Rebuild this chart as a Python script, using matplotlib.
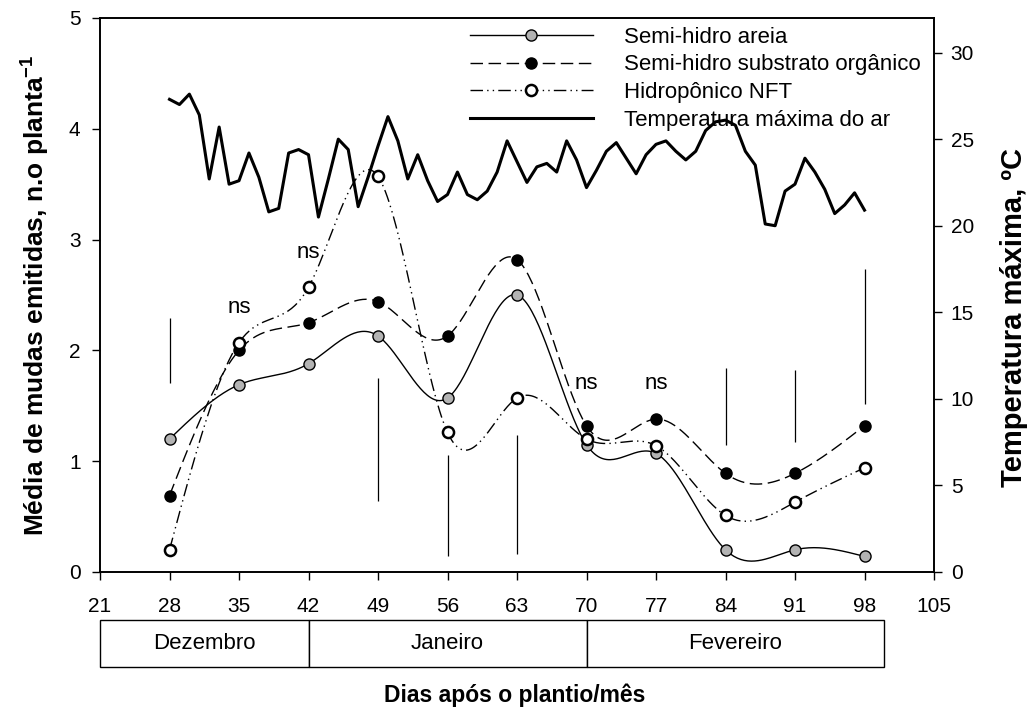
import numpy as np
import matplotlib
matplotlib.use("Agg")
import matplotlib.pyplot as plt
from matplotlib.lines import Line2D
from matplotlib.patches import Rectangle
import matplotlib.transforms as mtransforms

plt.rcParams["font.family"] = ["Liberation Sans", "DejaVu Sans"]
plt.rcParams["mathtext.default"] = "regular"

# sampling days (days after planting)
days = [28, 35, 42, 49, 56, 63, 70, 77, 84, 91, 98]

areia = [1.20, 1.69, 1.88, 2.13, 1.57, 2.50, 1.15, 1.07, 0.20, 0.20, 0.14]
substrato = [0.69, 2.00, 2.25, 2.44, 2.13, 2.82, 1.32, 1.38, 0.89, 0.89, 1.32]
nft = [0.20, 2.07, 2.57, 3.57, 1.26, 1.57, 1.20, 1.14, 0.51, 0.63, 0.94]

# daily maximum air temperature, day 28 .. 98
temp_days = list(range(28, 99))
temp_max = [
    27.3, 27.0, 27.6, 26.4, 22.7, 25.7, 22.4, 22.6, 24.2, 22.8,
    20.8, 21.0, 24.2, 24.4, 24.1, 20.5, 22.7, 25.0, 24.4, 21.1,
    22.8, 24.6, 26.3, 24.9, 22.7, 24.1, 22.6, 21.4, 21.8, 23.1,
    21.8, 21.5, 22.0, 23.1, 24.9, 23.7, 22.5, 23.4, 23.6, 23.1,
    24.9, 23.8, 22.2, 23.2, 24.3, 24.8, 23.9, 23.0, 24.1, 24.7,
    24.9, 24.3, 23.8, 24.3, 25.5, 26.0, 26.1, 25.8, 24.3, 23.5,
    20.1, 20.0, 22.0, 22.4, 23.9, 23.1, 22.1, 20.7, 21.2, 21.9,
    20.9,
]

# least significant difference bars
lsd_days = [28, 49, 56, 63, 84, 91, 98]
lsd_low = [1.71, 0.64, 0.14, 0.16, 1.15, 1.17, 1.52]
lsd_high = [2.29, 1.75, 1.06, 1.24, 1.84, 1.82, 2.73]

# non significant labels
ns_days = [35, 42, 70, 77]
ns_y = [2.39, 2.88, 1.70, 1.70]

months = ["Dezembro", "Janeiro", "Fevereiro"]
month_edges = [21, 42, 70, 100]

xticks = [21, 28, 35, 42, 49, 56, 63, 70, 77, 84, 91, 98, 105]


def natural_spline(x, y, n=400):
    x = np.asarray(x, float)
    y = np.asarray(y, float)
    k = len(x)
    h = np.diff(x)
    A = np.zeros((k, k))
    b = np.zeros(k)
    A[0, 0] = 1
    A[-1, -1] = 1
    for i in range(1, k - 1):
        A[i, i - 1] = h[i - 1]
        A[i, i] = 2 * (h[i - 1] + h[i])
        A[i, i + 1] = h[i]
        b[i] = 6 * ((y[i + 1] - y[i]) / h[i] - (y[i] - y[i - 1]) / h[i - 1])
    m = np.linalg.solve(A, b)
    xs = np.linspace(x[0], x[-1], n)
    idx = np.clip(np.searchsorted(x, xs) - 1, 0, k - 2)
    x0, x1 = x[idx], x[idx + 1]
    hh = x1 - x0
    t0 = x1 - xs
    t1 = xs - x0
    ys = (m[idx] * t0 ** 3 / (6 * hh) + m[idx + 1] * t1 ** 3 / (6 * hh)
          + (y[idx] / hh - m[idx] * hh / 6) * t0
          + (y[idx + 1] / hh - m[idx + 1] * hh / 6) * t1)
    return xs, ys


fig = plt.figure(figsize=(10.3, 7.13), dpi=100)
ax = fig.add_axes([0.0971, 0.1978, 0.8097, 0.7770])
ax2 = ax.twinx()

series = [
    (areia, "-", "#b3b3b3", 1.0, "Semi-hidro areia"),
    (substrato, (0, (9, 4)), "black", 1.0, "Semi-hidro substrato orgânico"),
    (nft, (0, (9, 3, 1, 3, 1, 3)), "white", 1.8, "Hidropônico NFT"),
]

handles = []
for vals, ls, face, mew, lab in series:
    xs, ys = natural_spline(days, vals)
    ax.plot(xs, ys, color="black", linestyle=ls, linewidth=1.0, zorder=2)
    ax.plot(days, vals, linestyle="none", marker="o", markersize=8,
            markerfacecolor=face, markeredgecolor="black",
            markeredgewidth=mew, zorder=3)
    handles.append(Line2D([], [], color="black", linestyle=ls, linewidth=1.0,
                          marker="o", markersize=8, markerfacecolor=face,
                          markeredgecolor="black", markeredgewidth=mew,
                          label=lab))

ax.vlines(lsd_days, lsd_low, lsd_high, color="black", linewidth=0.9, zorder=1)

for d, yv in zip(ns_days, ns_y):
    ax.text(d, yv, "ns", ha="center", va="center", fontsize=16)

ax2.plot(temp_days, temp_max, color="black", linewidth=2.2)
handles.append(Line2D([], [], color="black", linewidth=2.2,
                      label="Temperatura máxima do ar"))

ax.set_xlim(21, 105)
ax.set_ylim(0, 5)
ax2.set_ylim(0, 32)
ax.set_xticks(xticks)
ax.set_yticks([0, 1, 2, 3, 4, 5])
ax2.set_yticks([0, 5, 10, 15, 20, 25, 30])

ax.tick_params(axis="x", direction="out", length=6, width=1, labelsize=15,
               pad=12)
ax.tick_params(axis="y", direction="out", length=6, width=1, labelsize=15,
               pad=8)
ax2.tick_params(axis="y", direction="out", length=6, width=1, labelsize=15,
                pad=6)
for sp in list(ax.spines.values()) + list(ax2.spines.values()):
    sp.set_linewidth(1.2)

ax.set_ylabel("Média de mudas emitidas, n.o planta$^{-1}$", fontsize=19,
              fontweight="bold", labelpad=12)
ax2.set_ylabel("Temperatura máxima, ºC", fontsize=21, fontweight="bold")
ax2.yaxis.set_label_coords(1.079, 0.46)

# month boxes under the x axis
trans = mtransforms.blended_transform_factory(ax.transData, ax.transAxes)
box_bottom = -0.1715
box_h = 0.085
for i, name in enumerate(months):
    x0 = month_edges[i]
    x1 = month_edges[i + 1]
    ax.add_patch(Rectangle((x0, box_bottom), x1 - x0, box_h, transform=trans,
                           facecolor="white", edgecolor="black",
                           linewidth=1.0, clip_on=False))
    ax.text((x0 + x1) / 2, box_bottom + box_h / 2, name, transform=trans,
            ha="center", va="center", fontsize=16)

fig.text(0.5, 0.025, "Dias após o plantio/mês", ha="center", va="center",
         fontsize=16.5, fontweight="bold")

leg = ax2.legend(handles=handles, loc="upper left",
                 bbox_to_anchor=(0.448, 0.975), bbox_transform=fig.transFigure,
                 frameon=False, fontsize=16, handlelength=5.5,
                 handletextpad=1.4, labelspacing=0.3, borderaxespad=0)

fig.savefig("out.png", dpi=100)
plt.close(fig)
